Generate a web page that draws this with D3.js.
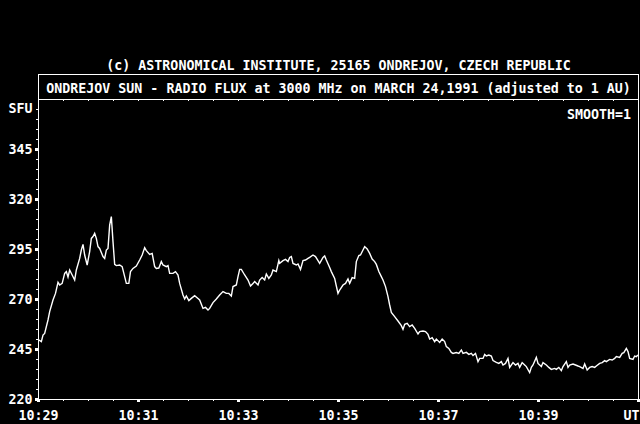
<!DOCTYPE html>
<html>
<head>
<meta charset="utf-8">
<script src="https://cdnjs.cloudflare.com/ajax/libs/d3/7.8.5/d3.min.js"></script>
<style>
  body { margin:0; background:#000; }
  svg { display:block; }
  text { font-family:"DejaVu Sans Mono","Liberation Mono",monospace; font-size:13.3px; font-weight:bold; fill:#fff; }
  .axis line { stroke:#fff; }
  .axis text { fill:#fff; font-family:"DejaVu Sans Mono","Liberation Mono",monospace; font-size:13.3px; font-weight:bold; }
  .major line { stroke-width:3; }
</style>
</head>
<body>
<script>
// time in seconds after 10:29:00 UT
var seconds = [1,4,6,8,12,14,18,21,24,26,29,32,34,36,38,41,44,46,50,52,54,56,59,62,64,66,68,70,72,74,
  78,80,82,84,86,88,90,92,94,98,101,104,106,109,111,114,118,122,125,128,130,134,137,140,142,145,148,150,154,156,
  158,162,165,168,170,174,176,178,
  181,184,188,192,194,198,201,204,206,210,214,218,222,226,229,232,234,238,240,242,244,248,252,255,258,260,
  264,266,269,272,274,277,280,282,286,289,290,294,297,300,302,304,306,310,312,315,318,321,324,326,330,333,
  336,338,342,344,346,350,352,356,358,
  360,362,366,369,372,374,377,380,382,385,387,390,392,395,398,401,404,406,409,412,414,417,420,422,424,428,
  432,436,438,440,443,446,449,452,456,458,462,465,468,470,473,476,478,482,485,488,490,493,496,498,502,505,
  508,510,514,517,520,522,525,528,530,534,536,538,
  541,544,546,550,553,556,558,561,564,566,570,573,576,578,581,584,586,590,592,594,598,600,604,606,610,613,
  616,620,622,625,628,630,634,636,638,642,645,648,650,654,656,659,662,665,668,670,674,677,680,682,686,689,
  692,694,698,701,703,706,708,710,714,716,718,720];

// radio flux, SFU
var flux = [249.5,248.7,252,252.8,259.5,263.7,269.5,272.8,278.3,277,277.8,282.8,283.7,281,284.5,282,279.5,284.5,290.3,294.5,
  297.3,292,287,293.7,300.3,301.2,302.8,300.3,296.2,295.3,291.2,290.3,294.5,295.3,307,311.2,298.7,287.3,286.7,287,
  286.2,281.2,277.8,277.8,283.7,285.3,286.5,289.5,292,295.7,294.2,292.3,292.8,286.2,285.3,285.5,288.7,287,286.2,286.7,
  282.8,282.8,283.7,282,277.8,272,270,271.5,
  269.2,270.3,271.7,270.3,269.5,265.3,265.8,264.5,265.3,268.2,270,272,273.7,272.8,272.8,271.5,276.2,277,281.2,284.8,
  284.8,282,279.5,276.5,277.8,278.7,277,279.5,280.8,279.5,282.5,280.3,282,284.5,283.7,289.2,287.8,289.2,289.8,288.7,
  290.8,291.2,287.8,287,287.5,284.8,289.2,289.5,290.3,290.8,292,291.2,289.2,287.8,290.8,291.5,289.5,285.8,283.7,280.3,
  276.5,
  272.8,274.5,277,277.8,280,277.8,280.7,280.3,288.7,291.7,292,294.5,296.2,295,292.8,290,288.7,287.3,283.7,281.2,
  279.5,276.2,271.2,267,263.3,261.2,259,256.7,254.8,257.3,257.8,256.2,257,255.3,252.5,253.7,254,253.7,252.3,250,
  250.7,248.7,250,248.3,250,248.7,246.2,245.3,243.3,242.8,243.2,242.8,244.5,242.8,243.3,242.3,242.8,241.7,242.8,238.7,
  240.3,240.3,242.3,241.5,
  242,241.5,239.2,238.3,237.8,238.7,237,237.8,240.3,235.8,238.2,237,237.8,235.8,238.2,237,236.2,233.2,235.8,237,
  240.8,237.8,236.2,238.2,237,235.8,234.8,235.3,234.8,235.8,234.2,236.2,238.7,235.8,237,237.5,237,236.5,236.2,235.3,
  237.5,234.5,235.8,236.2,235.8,236.5,237.8,238.2,239.2,238.7,239.8,239.5,240.3,241.2,240.8,242.8,243.2,245.3,243.7,240.3,
  239.8,241.5,241.2,242];

var xTickMinutes = [0,2,4,6,8,10,12];
var xTickLabels = ["10:29","10:31","10:33","10:35","10:37","10:39","UT"];
var yTickValues = [220,245,270,295,320,345];
var yUnit = "SFU";
var copyright = "(c) ASTRONOMICAL INSTITUTE, 25165 ONDREJOV, CZECH REPUBLIC";
var title = "ONDREJOV SUN - RADIO FLUX at 3000 MHz on MARCH 24,1991 (adjusted to 1 AU)";
var smoothLabel = "SMOOTH=1";

var data = seconds.map(function(s,i){ return {t:s, v:flux[i]}; });

var margin = {top:99, bottom:25, left:38, right:2};
var w = 640 - margin.left - margin.right,
    h = 424 - margin.top - margin.bottom;

var root = d3.select("body")
            .append("svg")
              .attr("width",640)
              .attr("height",424);

root.append("rect")
    .attr("width",640).attr("height",424)
    .attr("fill","#000");

// header texts
root.append("text")
    .attr("x",338.5).attr("y",69.5)
    .attr("text-anchor","middle")
    .text(copyright);

root.append("rect")
    .attr("x",margin.left+0.5).attr("y",74.5)
    .attr("width",w).attr("height",margin.top-74)
    .attr("fill","none").attr("stroke","#fff");

root.append("text")
    .attr("x",338.5).attr("y",92.5)
    .attr("text-anchor","middle")
    .text(title);

var svg = root.append("g")
              .attr("transform","translate(" + margin.left + "," + margin.top + ")");

// scales
var xScale = d3.scaleLinear()
              .domain([0,720])
              .range([0,w]);

var yScale = d3.scaleLinear()
              .domain([220,370])
              .range([h,0]);

// frame
svg.append("rect")
    .attr("x",0.5).attr("y",0.5)
    .attr("width",w).attr("height",h)
    .attr("fill","none").attr("stroke","#fff")
    .attr("shape-rendering","crispEdges");

// minor ticks
svg.append("g")
    .attr("class","axis")
    .attr("transform","translate(0," + h + ")")
    .call(d3.axisBottom(xScale).tickValues(d3.range(0,721,30)).tickSize(2).tickFormat(""))
    .call(function(g){ g.select(".domain").remove(); });

svg.append("g")
    .attr("class","axis")
    .call(d3.axisTop(xScale).tickValues(d3.range(30,720,30)).tickSize(-2).tickFormat(""))
    .call(function(g){ g.select(".domain").remove(); });

svg.append("g")
    .attr("class","axis")
    .call(d3.axisLeft(yScale).tickValues(d3.range(225,370,5)).tickSize(2).tickFormat(""))
    .call(function(g){ g.select(".domain").remove(); });

// major ticks + labels
svg.append("g")
    .attr("class","axis major")
    .attr("transform","translate(0," + h + ")")
    .call(d3.axisBottom(xScale)
            .tickValues(xTickMinutes.map(function(m){return m*60;}))
            .tickSize(3).tickPadding(8.5)
            .tickFormat(function(d,i){ return xTickLabels[i]; }))
    .call(function(g){
      g.select(".domain").remove();
      g.selectAll(".tick").filter(function(d){ return d===720; })
        .select("text").attr("text-anchor","end").attr("x",1);
    });

svg.append("g")
    .attr("class","axis major")
    .call(d3.axisLeft(yScale)
            .tickValues(yTickValues)
            .tickSize(3).tickPadding(2.5))
    .call(function(g){ g.select(".domain").remove(); });

svg.append("text")
    .attr("x",-5.5)
    .attr("y",yScale(365))
    .attr("dy","0.32em")
    .attr("text-anchor","end")
    .text(yUnit);

svg.append("text")
    .attr("x",w-7)
    .attr("y",20)
    .attr("text-anchor","end")
    .text(smoothLabel);

// flux curve
var line = d3.line()
            .x(function(d){return xScale(d.t)})
            .y(function(d){return yScale(d.v)});

svg.append("path")
    .datum(data)
    .attr("d",line)
    .attr("fill","none")
    .attr("stroke","#fff")
    .attr("stroke-width",1.4);
</script>
</body>
</html>
